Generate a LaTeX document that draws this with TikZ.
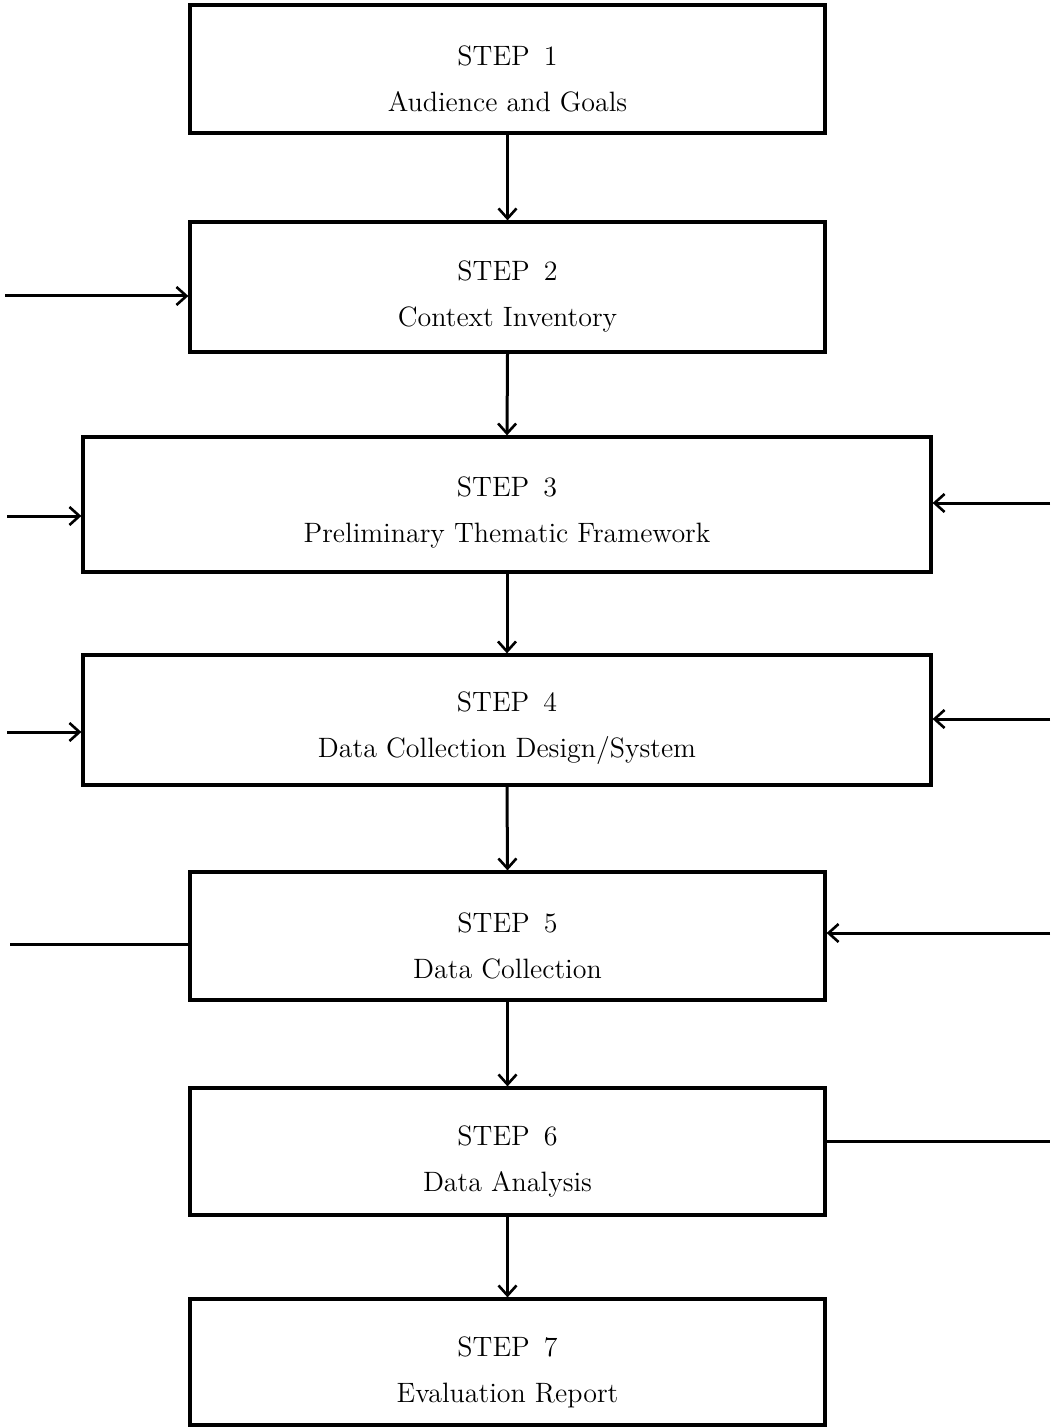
\documentclass[tikz,border=0pt]{standalone}
\usetikzlibrary{arrows.meta}
\begin{document}
\begin{tikzpicture}[x=0.5pt,y=-0.5pt,
  stepbox/.style={draw,line width=1.6pt,inner sep=0pt},
  steptext/.style={align=center,inner sep=0pt,font=\fontsize{14}{16}\selectfont},
  conn/.style={line width=1.5pt,-{Straight Barb[length=5pt,width=9pt,line width=1.3pt]}},
  plain/.style={line width=1.5pt}]
\useasboundingbox (0,0) rectangle (1050,1428);
\node[stepbox,minimum width=317.5pt,minimum height=64pt] (s1) at (507.5,69) {};
\node[stepbox,minimum width=317.5pt,minimum height=65pt] (s2) at (507.5,287) {};
\node[stepbox,minimum width=424pt,minimum height=67.5pt] (s3) at (507,504.5) {};
\node[stepbox,minimum width=424pt,minimum height=65pt] (s4) at (507,720) {};
\node[stepbox,minimum width=317.5pt,minimum height=64pt] (s5) at (507.5,936) {};
\node[stepbox,minimum width=317.5pt,minimum height=63.5pt] (s6) at (507.5,1151.5) {};
\node[stepbox,minimum width=317.5pt,minimum height=63pt] (s7) at (507.5,1362) {};
\node[steptext] (t1) at ([yshift=-5pt]s1.center) {STEP\enspace 1\\[7pt]Audience and Goals};
\node[steptext] (t2) at ([yshift=-5pt]s2.center) {STEP\enspace 2\\[7pt]Context Inventory};
\node[steptext] (t3) at ([yshift=-4pt]s3.center) {STEP\enspace 3\\[7pt]Preliminary Thematic Framework};
\node[steptext] (t4) at ([yshift=-4pt]s4.center) {STEP\enspace 4\\[7pt]Data Collection Design/System};
\node[steptext] (t5) at ([yshift=-5pt]s5.center) {STEP\enspace 5\\[7pt]Data Collection};
\node[steptext] (t6) at ([yshift=-5pt]s6.center) {STEP\enspace 6\\[7pt]Data Analysis};
\node[steptext] (t7) at ([yshift=-5pt]s7.center) {STEP\enspace 7\\[7pt]Evaluation Report};
\draw[conn] (s1.south) -- (s2.north);
\draw[conn] (s2.south) -- (s3.north);
\draw[conn] (s3.south) -- (s4.north);
\draw[conn] (s4.south) -- (s5.north);
\draw[conn] (s5.south) -- (s6.north);
\draw[conn] (s6.south) -- (s7.north);
\coordinate (l2) at (5,296);
\coordinate (l3) at (7,516);
\coordinate (l4) at (7,732);
\coordinate (l5) at (10,944);
\coordinate (r3) at (1050,503);
\coordinate (r4) at (1050,719);
\coordinate (r5) at (1050,933);
\coordinate (r6) at (1050,1141);
\draw[conn] (l2) -- (l2 -| s2.west);
\draw[conn] (l3) -- (l3 -| s3.west);
\draw[conn] (l4) -- (l4 -| s4.west);
\draw[plain] (l5) -- (l5 -| s5.west);
\draw[conn] (r3) -- (r3 -| s3.east);
\draw[conn] (r4) -- (r4 -| s4.east);
\draw[conn] (r5) -- (r5 -| s5.east);
\draw[plain] (r6 -| s6.east) -- (r6);
\end{tikzpicture}
\end{document}
